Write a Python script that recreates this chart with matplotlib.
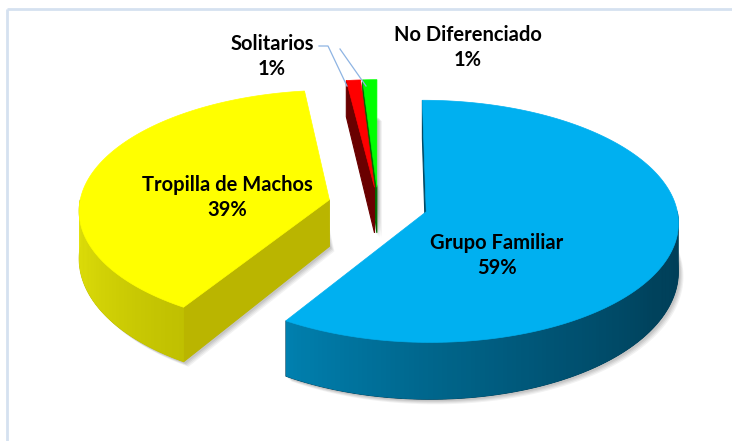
import numpy as np
import matplotlib
matplotlib.use("Agg")
import matplotlib.pyplot as plt
from matplotlib.patches import Polygon

# ---- data ----
categories = ["Grupo Familiar", "Tropilla de Machos", "Solitarios", "No Diferenciado"]
values = [59, 39, 1, 1]
pct_labels = ["59%", "39%", "1%", "1%"]

# ---- style ----
top_colors = ["#00B0F0", "#FFFF00", "#FF0000", "#00FF00"]
cut_colors = ["#004A66", "#BAB500", "#6A0000", "#006A00"]
wall_stops = [
    [(90, (0, 62, 88)), (120, (0, 66, 92)), (150, (0, 82, 114)), (180, (0, 102, 140)), (215, (0, 130, 178))],
    [(210, (190, 190, 0)), (272, (230, 230, 12))],
    [(0, (110, 0, 0)), (360, (110, 0, 0))],
    [(0, (0, 110, 0)), (360, (0, 110, 0))],
]
explode = [0.2, 0.2, 0.15, 0.15]

CX, CY, A, B, K, D0, KD = 378, 205, 250, 120, 0.08, 47, 0.2


def proj(u, v, h):
    s = 1 + K * v
    return (CX + A * u * s, CY + B * v * s + h * D0 * (1 + KD * v))


def wall_color(stops, t):
    angs = [s[0] for s in stops]
    cols = np.array([s[1] for s in stops], float)
    c = [np.interp(t, angs, cols[:, j]) for j in range(3)]
    return tuple(np.clip(np.array(c) / 255.0, 0, 1))


fig = plt.figure(figsize=(7.32, 4.41), dpi=100)
ax = fig.add_axes([0, 0, 1, 1])
ax.set_xlim(0, 732)
ax.set_ylim(441, 0)
ax.axis("off")

# frame
ax.plot([7, 732], [9, 9], color="#D5E1F0", lw=2.0, solid_capstyle="butt")
ax.plot([7, 7], [9, 441], color="#D5E1F0", lw=2.0, solid_capstyle="butt")

total = float(sum(values))
cum = np.concatenate([[0], np.cumsum(values)]) / total * 360.0

slices = []
for i in range(len(values)):
    t1, t2 = cum[i], cum[i + 1]
    mid = np.radians((t1 + t2) / 2)
    off = (explode[i] * np.sin(mid), -explode[i] * np.cos(mid))
    slices.append((off[1], i, t1, t2, off))
slices.sort()

# soft shadows (drawn first)
for _, i, t1, t2, off in slices:
    ou, ov = off
    tt = np.linspace(t1, t2, max(3, int(t2 - t1) + 2))
    base = [proj(ou, ov, 1)] + [proj(ou + np.sin(np.radians(t)), ov - np.cos(np.radians(t)), 1) for t in tt]
    base += [proj(ou, ov, 0)] if (t2 - t1) < 10 else []
    for k, (dx, dy, al) in enumerate([(5, 5, 0.10), (4, 4, 0.12), (3, 3, 0.15), (2, 2, 0.18)]):
        poly = [(x + dx, y + dy) for x, y in base]
        ax.add_patch(Polygon(poly, closed=True, fc="#808080", ec="none", alpha=al, zorder=1))

for _, i, t1, t2, off in slices:
    ou, ov = off

    def pt(t, h):
        r = np.radians(t)
        return proj(ou + np.sin(r), ov - np.cos(r), h)

    z = 2 + ov
    # cut faces
    for t, vis in ((t1, -np.sin(np.radians(t1)) >= -1e-9), (t2, np.sin(np.radians(t2)) > 1e-9)):
        if vis:
            poly = [proj(ou, ov, 0), pt(t, 0), pt(t, 1), proj(ou, ov, 1)]
            ax.add_patch(Polygon(poly, closed=True, fc=cut_colors[i], ec=cut_colors[i], lw=0.8, zorder=z))
    # outer wall
    lo, hi = max(t1, 90), min(t2, 270)
    if lo < hi:
        n = max(2, int((hi - lo) / 1.0))
        tt = np.linspace(lo, hi, n + 1)
        # solid underlay so no gaps show through
        full = [pt(t, 0) for t in tt] + [pt(t, 1) for t in tt[::-1]]
        c0 = wall_color(wall_stops[i], lo)
        ax.add_patch(Polygon(full, closed=True, fc=c0, ec=c0, lw=0.6, zorder=z))
        step = tt[1] - tt[0]
        for a_, b_ in zip(tt[:-1], tt[1:]):
            c = wall_color(wall_stops[i], (a_ + b_) / 2)
            bb = min(b_ + step * 0.6, hi)
            poly = [pt(a_, 0), pt(bb, 0), pt(bb, 1), pt(a_, 1)]
            ax.add_patch(Polygon(poly, closed=True, fc=c, ec="none", lw=0, zorder=z))
    # top face
    tt = np.linspace(t1, t2, max(3, int(t2 - t1) + 2))
    poly = [proj(ou, ov, 0)] + [pt(t, 0) for t in tt]
    ax.add_patch(Polygon(poly, closed=True, fc=top_colors[i], ec=top_colors[i], lw=0.5, zorder=z + 0.01))

# leader lines
lc = "#8EB4E3"
ax.plot([319, 328, 347], [46, 46, 86], color=lc, lw=0.9, zorder=5)
ax.plot([340, 366], [49, 86], color=lc, lw=0.9, zorder=5)

fam = ["Lato", "DejaVu Sans"]
fs = 14.5
label_pos = [(497, 243), (227, 185), (272, 44), (468, 35)]
for i, (x, y) in enumerate(label_pos):
    ax.text(x, y, categories[i], ha="center", va="center", fontsize=fs,
            fontweight="bold", family=fam, color="black", zorder=10)
    ax.text(x, y + 25, pct_labels[i], ha="center", va="center", fontsize=fs,
            fontweight="bold", family=fam, color="black", zorder=10)

fig.savefig("out.png", dpi=100)
